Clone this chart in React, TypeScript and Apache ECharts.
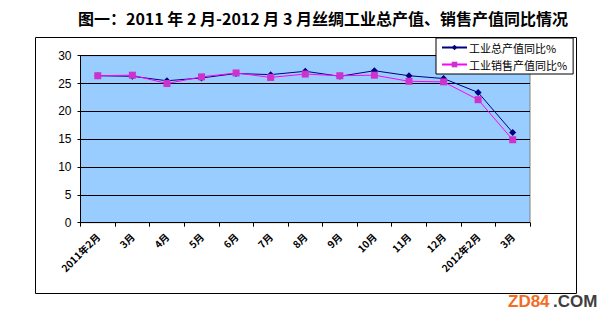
import React, { useEffect, useRef } from "react";
import * as echarts from "echarts";

const categories = ["2011年2月", "3月", "4月", "5月", "6月", "7月", "8月", "9月", "10月", "11月", "12月", "2012年2月", "3月"];
const totalOutput = [26.4, 26.3, 25.5, 26.0, 26.8, 26.6, 27.2, 26.3, 27.3, 26.4, 25.9, 23.4, 16.2];
const salesOutput = [26.4, 26.5, 25.0, 26.2, 26.9, 26.1, 26.7, 26.4, 26.5, 25.4, 25.3, 22.1, 14.9];
const seriesNames = ["工业总产值同比%", "工业销售产值同比%"];
const titleText = "图一：2011 年 2 月-2012 月 3 月丝绸工业总产值、销售产值同比情况";

export default function App() {
  const ref = useRef<HTMLDivElement>(null);
  useEffect(() => {
    if (!ref.current) return;
    const chart = echarts.init(ref.current, null, { renderer: "svg" });
    chart.setOption({
      animation: false,
      backgroundColor: "#ffffff",
      grid: {
        left: 80.5,
        right: 83,
        top: 55.7,
        bottom: 98.3,
        show: true,
        backgroundColor: "#99CCFF",
        borderColor: "#808080",
        borderWidth: 1,
      },
      legend: {
        orient: "vertical",
        left: 436,
        top: 38,
        backgroundColor: "#ffffff",
        borderColor: "#000000",
        borderWidth: 1,
        borderRadius: 0,
        padding: [3, 6, 3, 5],
        itemGap: 4,
        itemWidth: 25,
        itemHeight: 7,
        textStyle: {
          fontSize: 11,
          lineHeight: 13,
          color: "#000",
          fontFamily: "Noto Sans CJK SC",
          padding: [0, 0, 0, -3],
        },
        data: seriesNames,
      },
      xAxis: {
        type: "category",
        data: categories,
        boundaryGap: true,
        axisLine: { lineStyle: { color: "#000", width: 1 } },
        axisTick: { show: true, length: 4, lineStyle: { color: "#000" } },
        axisLabel: {
          interval: 0,
          rotate: 45,
          margin: 12,
          fontSize: 10,
          fontWeight: "bold",
          color: "#000",
          fontFamily: "Noto Sans CJK SC",
        },
      },
      yAxis: {
        type: "value",
        min: 0,
        max: 30,
        interval: 5,
        axisLine: { show: true, lineStyle: { color: "#000", width: 1 } },
        axisTick: { show: true, length: 3, lineStyle: { color: "#000" } },
        axisLabel: { fontSize: 12, color: "#000", margin: 9, fontFamily: "Liberation Sans" },
        splitLine: { show: true, lineStyle: { color: "#000", width: 1 } },
      },
      series: [
        {
          name: seriesNames[0],
          type: "line",
          data: totalOutput,
          symbol: "diamond",
          symbolSize: 7,
          lineStyle: { color: "#000080", width: 1 },
          itemStyle: { color: "#000080" },
          z: 3,
        },
        {
          name: seriesNames[1],
          type: "line",
          data: salesOutput,
          symbol: "rect",
          symbolSize: 7,
          lineStyle: { color: "#FF00FF", width: 1 },
          itemStyle: { color: "#CC33CC" },
          z: 4,
        },
      ],
      graphic: [
        {
          type: "rect",
          shape: { x: 35.5, y: 37.5, width: 541, height: 256 },
          style: { fill: "none", stroke: "#000", lineWidth: 1 },
          z: -1,
          silent: true,
        },
        {
          type: "text",
          x: 323,
          y: 18,
          style: {
            text: titleText,
            fontSize: 16,
            fontWeight: "bold",
            fontFamily: "Noto Sans CJK SC",
            fill: "#000",
            align: "center",
            verticalAlign: "middle",
          },
        },
        {
          type: "text",
          x: 508,
          y: 301,
          style: {
            text: "ZD84",
            fontSize: 17,
            fontWeight: "bold",
            fontFamily: "Liberation Sans",
            fill: "#F26C22",
            align: "left",
            verticalAlign: "middle",
          },
        },
        {
          type: "text",
          x: 553,
          y: 301,
          style: {
            text: ".COM",
            fontSize: 17,
            fontWeight: "bold",
            fontFamily: "Liberation Sans",
            fill: "#3F3F3F",
            align: "left",
            verticalAlign: "middle",
          },
        },
      ],
    });
    return () => chart.dispose();
  }, []);
  return <div ref={ref} style={{ width: 613, height: 321, position: "absolute", left: 0, top: 0 }} />;
}
